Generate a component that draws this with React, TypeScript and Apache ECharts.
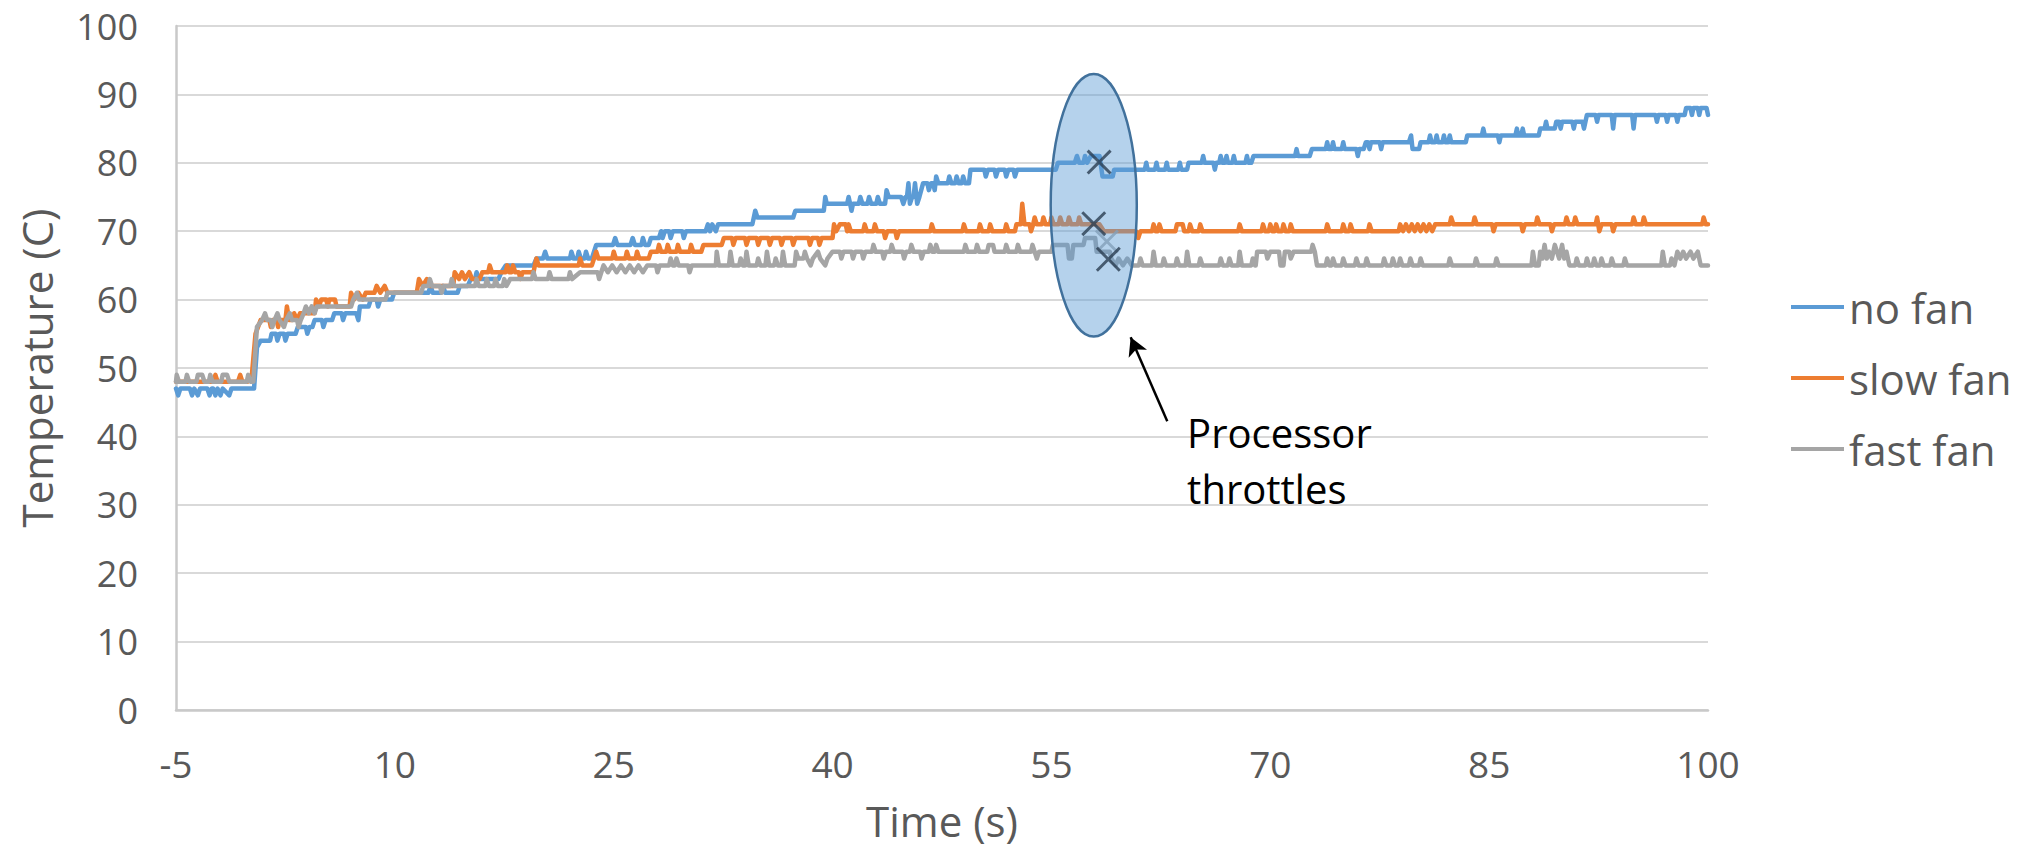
import React, { useEffect, useRef } from "react";
import * as echarts from "echarts";

// ---------- data (time in s, temperature in °C) ----------
const seriesNames = ["no fan", "slow fan", "fast fan"];
const seriesColors = ["#5B9BD5", "#ED7D31", "#A5A5A5"];

const xMin = -5;
const xMax = 100;
const xStep = 15;
const yMin = 0;
const yMax = 100;
const yStep = 10;

const noFanData = [
  [-5, 47], [-4.85, 46], [-4.7, 47], [-4.05, 47], [-3.9, 46], [-3.75, 47], [-3.5, 46], [-3.35, 47], [-2.85, 47], [-2.7, 46],
  [-2.55, 47], [-2.45, 47], [-2.3, 46], [-2.15, 47], [-1.95, 46], [-1.8, 47], [-1.35, 46], [-1.2, 47], [0.35, 47],
  [0.55, 53], [0.8, 54], [1.45, 54], [1.55, 55], [1.85, 55], [1.95, 54], [2.1, 55], [2.4, 55], [2.5, 54], [2.65, 55],
  [3.2, 55], [3.35, 56], [3.9, 56], [4.0, 55], [4.15, 56], [4.35, 56], [4.5, 57], [5.0, 57], [5.1, 56], [5.25, 57],
  [5.7, 57], [5.85, 58], [6.35, 58], [6.45, 57], [6.6, 58], [7.35, 58], [7.5, 57], [7.6, 59], [8.2, 59], [8.35, 60],
  [8.75, 60], [8.85, 59], [9.0, 60], [9.8, 60], [9.95, 61], [12.3, 61], [12.45, 62], [12.6, 61], [13.15, 61], [13.3, 62],
  [13.45, 61], [14.3, 61], [14.45, 62], [15.0, 62], [15.2, 63],
  [15.5, 63], [15.6, 64], [15.75, 63], [17.1, 63], [17.3, 64], [17.6, 65], [19.5, 65], [19.7, 66], [20.15, 66], [20.3, 67],
  [20.45, 66], [22.0, 66], [22.1, 67], [22.25, 66], [22.5, 66], [22.6, 67], [22.75, 66], [23.0, 66], [23.1, 67], [23.25, 66],
  [23.5, 66], [23.65, 67], [23.8, 68], [24.95, 68], [25.1, 69], [25.25, 68], [26.15, 68], [26.3, 69], [26.45, 68], [26.9, 68],
  [27.0, 69], [27.15, 68], [27.4, 68], [27.55, 69], [28.1, 69], [28.25, 70], [28.35, 69], [28.5, 70], [28.8, 70], [28.9, 69],
  [29.05, 70], [29.7, 70], [29.8, 69], [29.95, 70], [31.3, 70], [31.45, 71], [31.6, 70], [31.75, 71], [32.0, 70], [32.15, 71],
  [34.5, 71], [34.7, 73], [34.85, 72], [37.3, 72], [37.45, 73],
  [39.4, 73], [39.5, 75], [39.6, 74], [41.0, 74], [41.1, 75], [41.2, 74], [41.3, 73], [41.4, 74], [41.8, 74], [41.9, 75],
  [42.05, 74], [42.4, 74], [42.5, 75], [42.65, 74], [43.0, 74], [43.1, 75], [43.25, 74], [43.6, 74], [43.7, 76], [43.85, 75],
  [44.7, 75], [44.85, 74], [45.0, 75], [45.1, 75], [45.2, 77], [45.3, 74], [45.45, 75], [45.55, 75], [45.65, 77], [45.8, 74],
  [45.95, 75], [46.2, 77], [46.5, 77], [46.6, 76], [46.75, 77], [46.9, 77], [47.0, 76], [47.1, 78], [47.25, 77], [47.9, 77],
  [48.0, 78], [48.15, 77], [48.4, 77], [48.5, 78], [48.65, 77], [48.85, 77], [48.95, 78], [49.1, 77], [49.35, 77], [49.45, 79],
  [50.4, 79], [50.5, 78], [50.65, 79], [51.1, 79], [51.2, 78], [51.35, 79], [51.8, 79], [51.9, 78], [52.05, 79], [52.4, 79],
  [52.5, 78], [52.65, 79], [55.3, 79], [55.45, 80], [56.6, 80], [56.75, 81], [56.9, 80], [57.2, 80], [57.3, 81], [57.45, 80],
  [57.7, 81], [58.3, 81], [58.5, 78], [59.2, 78], [59.3, 79],
  [61.4, 79], [61.5, 80], [61.6, 79], [62.1, 79], [62.2, 80], [62.3, 79], [62.8, 79], [62.9, 80], [63.0, 79], [63.7, 79],
  [63.8, 80], [63.9, 79], [64.3, 79], [64.4, 80], [65.3, 80], [65.4, 81], [65.5, 80], [66.1, 80], [66.2, 79], [66.3, 80],
  [66.5, 80], [66.6, 81], [66.7, 80], [66.9, 80], [67.0, 81], [67.1, 80], [67.4, 80], [67.5, 81], [67.6, 80], [68.3, 80],
  [68.4, 81], [68.5, 80], [68.7, 80], [68.85, 81], [71.7, 81], [71.8, 82], [71.9, 81], [72.7, 81], [72.85, 82], [73.8, 82],
  [73.9, 83], [74.0, 82], [74.2, 82], [74.3, 83], [74.4, 82], [74.9, 82], [75.0, 83], [75.1, 82], [75.9, 82], [76.0, 81],
  [76.1, 82], [76.4, 82], [76.55, 83], [76.7, 83], [76.8, 82], [76.9, 83], [77.5, 83], [77.6, 82], [77.7, 83], [79.5, 83],
  [79.65, 84], [79.75, 82], [80.2, 82], [80.3, 83], [80.85, 83], [80.95, 84], [81.05, 83], [81.3, 83], [81.4, 84], [81.5, 83],
  [81.8, 83], [81.9, 84], [82.0, 83], [82.2, 83], [82.3, 84], [82.4, 83], [83.4, 83], [83.5, 84], [84.5, 84], [84.6, 85],
  [84.7, 84], [85.6, 84], [85.7, 83], [85.8, 84], [86.8, 84], [86.9, 85], [87.0, 84], [87.2, 84], [87.3, 85], [87.4, 84],
  [88.4, 84], [88.5, 85], [88.8, 85], [88.9, 86], [89.0, 85], [89.5, 85], [89.6, 86], [89.8, 86], [89.9, 85], [90.0, 86],
  [90.7, 86], [90.8, 85], [90.9, 86], [91.4, 86], [91.5, 85], [91.6, 86], [91.7, 87], [92.3, 87], [92.4, 86], [92.5, 87],
  [93.4, 87], [93.5, 85], [93.6, 87], [94.8, 87], [94.9, 85], [95.0, 87], [96.4, 87], [96.5, 86], [96.6, 87], [97.1, 87],
  [97.2, 86], [97.3, 87], [97.8, 87], [97.9, 86], [98.0, 87], [98.4, 87], [98.5, 88], [98.8, 88], [98.9, 87], [99.0, 88],
  [99.3, 88], [99.4, 87], [99.5, 88], [99.9, 88], [100, 87],
];

const slowFanData = [
  [-5, 48], [-2.45, 48], [-2.3, 49], [-2.15, 48], [-0.75, 48], [-0.6, 49], [-0.45, 48], [-0.1, 48], [0.2, 49], [0.45, 55],
  [0.8, 57], [1.4, 57], [1.5, 56], [1.6, 57], [1.9, 57], [2.0, 56], [2.1, 57], [2.5, 57], [2.6, 59], [2.75, 57],
  [3.0, 57], [3.1, 58], [3.3, 57], [3.5, 58], [4.5, 58], [4.6, 60], [4.8, 59], [4.95, 60], [5.3, 60], [5.4, 59],
  [5.5, 60], [5.9, 60], [6.0, 59], [6.9, 59], [7.0, 61], [7.2, 60], [7.5, 61], [7.8, 60], [8.0, 61], [8.6, 61],
  [8.75, 62], [9.0, 61], [9.3, 62], [9.5, 61], [11.5, 61], [11.65, 63], [11.9, 62], [12.2, 63], [12.4, 62], [14.0, 62],
  [14.1, 64], [14.4, 63], [14.6, 64], [14.8, 63], [15.1, 64], [15.3, 63],
  [15.8, 63], [16.0, 64], [16.4, 64], [16.5, 65], [16.65, 64], [17.6, 64], [17.7, 65], [17.85, 64], [18.0, 64], [18.1, 65],
  [18.25, 64], [18.5, 64], [18.6, 63], [18.75, 64], [19.5, 64], [19.7, 66], [19.85, 65], [22.6, 65], [22.7, 66], [22.85, 65],
  [23.5, 65], [23.65, 66], [23.8, 67], [23.95, 66], [24.9, 66], [25.0, 67], [25.15, 66], [25.8, 66], [25.9, 67], [26.05, 66],
  [26.5, 66], [26.6, 67], [26.75, 66], [27.4, 66], [27.55, 67], [28.0, 67], [28.1, 68], [28.25, 67], [28.6, 67], [28.7, 68],
  [28.85, 67], [29.3, 67], [29.4, 68], [29.55, 67], [30.2, 67], [30.3, 68], [30.45, 67], [31.0, 67], [31.15, 68], [32.4, 68],
  [32.55, 69], [33.1, 69], [33.2, 68], [33.35, 69], [34.0, 69], [34.1, 68], [34.25, 69], [34.8, 69], [34.9, 68], [35.05, 69],
  [35.6, 69], [35.7, 68], [35.85, 69], [36.4, 69], [36.5, 68], [36.65, 69], [37.2, 69], [37.3, 68], [37.45, 69],
  [38.35, 69], [38.45, 68], [38.6, 69], [39.0, 69], [39.1, 68], [39.25, 69], [40.0, 69], [40.1, 71], [40.25, 70], [40.5, 71],
  [40.9, 71], [41.0, 70], [41.1, 71], [41.25, 70], [42.1, 70], [42.2, 71], [42.35, 70], [42.8, 70], [42.9, 71], [43.05, 70],
  [43.5, 70], [43.6, 69], [43.75, 70], [44.3, 70], [44.4, 69], [44.55, 70], [46.7, 70], [46.8, 71], [46.95, 70], [48.9, 70],
  [49.0, 71], [49.15, 70], [50.0, 70], [50.1, 71], [50.25, 70], [50.7, 70], [50.8, 71], [50.95, 70], [51.8, 70], [51.9, 71],
  [52.05, 70], [52.5, 70], [52.6, 71], [52.9, 71], [53.0, 74], [53.15, 71], [53.5, 71], [53.6, 70], [53.75, 71], [53.85, 72],
  [54.0, 71], [54.35, 71], [54.45, 72], [54.6, 71], [54.9, 71], [55.0, 72], [55.15, 71], [55.5, 71], [55.6, 72], [55.75, 71],
  [56.1, 71], [56.2, 72], [56.35, 71], [56.8, 71], [56.9, 72], [57.05, 71], [58.3, 71], [58.6, 70], [60.8, 70], [60.95, 69],
  [61.1, 70],
  [61.9, 70], [62.0, 71], [62.15, 70], [62.3, 70], [62.4, 71], [62.55, 70], [63.5, 70], [63.6, 71], [64.0, 71], [64.1, 70],
  [64.4, 70], [64.5, 71], [64.65, 70], [65.1, 70], [65.2, 71], [65.35, 70], [67.8, 70], [67.9, 71], [68.05, 70], [69.4, 70],
  [69.5, 71], [69.65, 70], [69.9, 70], [70.0, 71], [70.15, 70], [70.3, 70], [70.4, 71], [70.55, 70], [70.8, 70], [70.9, 71],
  [71.05, 70], [71.3, 70], [71.4, 71], [71.55, 70], [73.8, 70], [73.9, 71], [74.05, 70], [74.9, 70], [75.0, 71], [75.15, 70],
  [75.4, 70], [75.5, 71], [75.65, 70], [76.7, 70], [76.8, 71], [76.95, 70], [78.8, 70], [78.9, 71], [79.1, 70], [79.3, 71],
  [79.5, 70], [79.7, 71], [79.9, 70], [80.1, 71], [80.3, 70], [80.5, 71], [80.7, 70], [80.9, 71], [81.1, 70], [81.3, 71],
  [82.3, 71], [82.4, 72], [82.55, 71], [83.9, 71], [84.0, 72], [84.15, 71], [85.2, 71], [85.3, 70], [85.45, 71], [87.2, 71],
  [87.3, 70], [87.45, 71], [88.2, 71], [88.3, 72], [88.45, 71], [89.2, 71], [89.3, 70], [89.45, 71], [90.2, 71], [90.3, 72],
  [90.45, 71], [90.8, 71], [90.9, 72], [91.05, 71], [92.3, 71], [92.4, 72], [92.55, 70], [92.7, 71], [93.4, 71], [93.5, 70],
  [93.65, 71], [94.8, 71], [94.9, 72], [95.05, 71], [95.5, 71], [95.6, 72], [95.75, 71], [99.6, 71], [99.7, 72], [99.85, 71],
  [100, 71],
];

const fastFanData = [
  [-5, 48], [-4.95, 49], [-4.8, 48], [-4.35, 48], [-4.25, 49], [-4.1, 48], [-3.6, 48], [-3.5, 49], [-3.2, 49], [-3.05, 48],
  [-2.75, 48], [-2.65, 49], [-2.5, 48], [-1.9, 48], [-1.8, 49], [-1.5, 49], [-1.35, 48], [-0.15, 48], [-0.05, 49], [0.1, 48],
  [0.3, 48], [0.55, 56], [0.9, 57], [1.1, 58], [1.25, 57], [1.5, 57], [1.6, 56], [1.75, 57], [1.95, 58], [2.1, 57],
  [2.4, 56], [2.55, 57], [2.8, 58], [2.95, 57], [3.3, 57], [3.4, 56], [3.55, 57], [3.75, 58], [3.9, 59], [4.1, 58],
  [4.3, 59], [4.5, 58], [4.65, 59], [7.0, 59], [7.15, 60], [7.4, 61], [7.55, 60], [9.35, 60], [9.5, 61], [11.8, 61],
  [11.95, 62], [12.3, 62], [12.4, 63], [12.55, 62], [13.1, 62], [13.2, 61], [13.35, 62], [13.8, 62], [13.9, 63], [14.05, 62],
  [15.5, 62], [15.6, 63], [15.75, 62], [16.2, 62], [16.3, 63], [16.45, 62], [16.8, 62], [16.9, 63], [17.05, 62], [17.4, 62],
  [17.5, 63], [17.65, 62], [17.9, 63], [19.4, 63], [19.5, 64], [19.65, 63], [20.5, 63], [20.6, 64], [20.75, 63], [21.9, 63],
  [22.0, 64], [22.15, 63], [22.7, 64], [23.9, 64], [24.0, 63], [24.15, 64], [24.3, 65], [24.6, 64], [24.9, 65], [25.2, 64],
  [25.5, 65], [25.8, 64], [26.1, 65], [26.4, 64], [26.7, 65], [27.0, 64], [27.3, 65], [27.9, 65], [28.0, 64], [28.15, 65],
  [28.8, 65], [28.9, 66], [29.05, 65], [29.2, 65], [29.3, 66], [29.45, 65], [30.1, 65], [30.2, 64], [30.35, 65], [32.0, 65],
  [32.06, 67], [32.2, 65], [32.9, 65], [33.0, 67], [33.15, 65], [33.6, 65], [33.7, 66], [33.85, 65], [34.0, 65], [34.1, 67],
  [34.25, 65], [34.8, 65], [34.9, 66], [35.05, 65], [35.4, 65], [35.5, 67], [35.65, 65], [36.0, 65], [36.1, 66], [36.25, 65],
  [36.5, 65], [36.6, 67], [36.75, 65], [37.4, 65], [37.5, 67], [37.65, 66], [38.0, 66], [38.1, 67], [38.25, 66], [38.5, 65],
  [38.65, 66], [39.0, 67], [39.15, 66], [39.5, 65], [39.65, 66], [40.0, 67], [40.5, 67], [40.6, 66], [40.75, 67], [41.3, 67],
  [41.4, 66], [41.55, 67], [42.0, 67], [42.1, 66], [42.25, 67], [42.7, 67], [42.8, 68], [42.95, 67], [43.4, 67], [43.5, 66],
  [43.65, 67], [43.95, 67], [44.05, 68], [44.2, 67], [44.8, 67], [44.9, 66], [45.05, 67], [45.3, 67], [45.4, 68], [45.55, 67],
  [46.0, 67], [46.1, 66], [46.25, 67], [46.6, 67], [46.7, 68], [46.85, 67], [47.0, 67], [47.1, 68], [47.25, 67], [49.0, 67],
  [49.1, 68], [49.25, 67], [49.8, 67], [49.9, 68], [50.05, 67], [50.6, 67], [50.7, 68], [51.0, 68], [51.1, 67], [51.8, 67],
  [51.9, 68], [52.05, 67], [52.6, 67], [52.7, 68], [52.85, 67], [53.6, 67], [53.7, 68], [53.85, 67], [54.0, 66], [54.15, 67],
  [55.0, 67], [55.1, 68], [56.1, 68], [56.2, 66], [56.4, 66], [56.5, 68], [57.2, 68], [57.3, 69], [58.0, 69], [58.1, 67],
  [59.0, 67], [59.1, 66], [59.4, 65], [59.6, 66], [59.9, 65], [60.2, 66], [60.5, 65], [61.0, 65], [61.1, 66], [61.25, 65],
  [61.9, 65], [62.0, 67], [62.15, 65], [62.6, 65], [62.7, 66], [62.85, 65], [63.5, 65], [63.6, 66], [63.75, 65], [64.2, 65],
  [64.3, 67], [64.45, 65], [65.1, 65], [65.2, 66], [65.35, 65], [66.5, 65], [66.6, 66], [66.75, 65], [67.1, 65], [67.2, 66],
  [67.35, 65], [67.8, 65], [67.9, 67], [68.05, 65], [68.7, 65], [68.8, 66], [68.95, 65], [69.0, 65], [69.1, 67], [69.7, 67],
  [69.8, 66], [70.0, 67], [70.6, 67], [70.7, 65], [70.9, 65], [71.0, 67], [71.3, 67], [71.4, 66], [71.6, 67], [72.8, 67],
  [72.9, 68], [73.05, 67], [73.2, 65], [73.8, 65], [73.9, 66], [74.05, 65], [74.2, 65], [74.3, 66], [74.45, 65], [74.9, 65],
  [75.0, 66], [75.15, 65], [75.8, 65], [75.9, 66], [76.05, 65], [76.5, 65], [76.6, 66], [76.75, 65], [77.7, 65], [77.8, 66],
  [77.95, 65], [78.3, 65], [78.4, 66], [78.55, 65], [78.8, 65], [78.9, 66], [79.05, 65], [79.5, 65], [79.6, 66], [79.75, 65],
  [80.2, 65], [80.3, 66], [80.45, 65], [82.2, 65], [82.3, 66], [82.45, 65], [84.0, 65], [84.1, 66], [84.25, 65], [85.4, 65],
  [85.5, 66], [85.65, 65], [87.9, 65], [88.0, 67], [88.15, 65], [88.4, 65], [88.5, 67], [88.65, 66], [88.8, 68], [88.95, 66],
  [89.1, 67], [89.3, 66], [89.5, 68], [89.65, 67], [89.8, 66], [90.0, 68], [90.15, 66], [90.3, 67], [90.5, 65], [90.9, 65],
  [91.0, 66], [91.15, 65], [91.6, 65], [91.7, 66], [91.85, 65], [92.1, 65], [92.2, 66], [92.35, 65], [92.6, 65], [92.7, 66],
  [92.85, 65], [93.3, 65], [93.4, 66], [93.55, 65], [94.2, 65], [94.3, 66], [94.45, 65], [96.8, 65], [96.9, 67], [97.05, 65],
  [97.4, 65], [97.5, 66], [97.7, 65], [97.9, 67], [98.1, 66], [98.3, 67], [98.5, 66], [98.8, 67], [99.0, 66], [99.3, 67],
  [99.5, 65], [100, 65],
];

// throttle points (×) and annotation anchors, in data coordinates
const throttleMarkers = [[58.27, 80.1], [57.9, 71.1], [58.9, 65.9]];
const hiddenMarker = [[58.8, 68.5]];
const ellipseCenter = [57.9, 73.8];
const ellipseHalfSize = [2.95, 19.2];
const arrowFrom = [62.94, 42.2];
const arrowTo = [60.43, 54.5];
const noteAnchor = [64.3, 44.6];
const noteText = "Processor\nthrottles";

const xAxisTitle = "Time (s)";
const yAxisTitle = "Temperature (C)";

const FONT = "'Open Sans', 'Noto Sans', sans-serif";
const TEXT_GRAY = "#595959";
const CROSS = "path://M0,2L2,0L12,10L22,0L24,2L14,12L24,22L22,24L12,14L2,24L0,22L10,12Z";

export default function App() {
  const ref = useRef<HTMLDivElement>(null);

  useEffect(() => {
    if (!ref.current) return;
    const chart = echarts.init(ref.current, null, { renderer: "svg" });
    const lineData = [noFanData, slowFanData, fastFanData];

    const option: any = {
      animation: false,
      textStyle: { fontFamily: FONT },
      grid: { left: 176, right: 311, top: 26, bottom: 141, containLabel: false },
      legend: {
        data: seriesNames,
        orient: "vertical",
        left: 1786,
        top: 277,
        icon: "rect",
        itemWidth: 53,
        itemHeight: 4,
        itemGap: 21,
        textStyle: { fontSize: 42, color: TEXT_GRAY, fontFamily: FONT, lineHeight: 50 },
        selectedMode: false,
      },
      xAxis: {
        type: "value",
        min: xMin,
        max: xMax,
        interval: xStep,
        name: xAxisTitle,
        nameLocation: "middle",
        nameGap: 89,
        nameTextStyle: { fontSize: 42, color: TEXT_GRAY, fontFamily: FONT },
        axisLine: { show: true, onZero: false, lineStyle: { color: "#C9C9C9", width: 2.5 } },
        axisTick: { show: false },
        splitLine: { show: false },
        axisLabel: { fontSize: 37, color: TEXT_GRAY, margin: 35, fontFamily: FONT },
      },
      yAxis: {
        type: "value",
        min: yMin,
        max: yMax,
        interval: yStep,
        name: yAxisTitle,
        nameLocation: "middle",
        nameRotate: 90,
        nameGap: 119,
        nameTextStyle: { fontSize: 42, color: TEXT_GRAY, fontFamily: FONT },
        axisLine: { show: true, onZero: false, lineStyle: { color: "#C9C9C9", width: 2.5 } },
        axisTick: { show: false },
        splitLine: { show: true, lineStyle: { color: "#D9D9D9", width: 2 } },
        axisLabel: { fontSize: 36, color: TEXT_GRAY, margin: 38, fontFamily: FONT },
      },
      series: [
        ...seriesNames.map((name, i) => ({
          name,
          type: "line",
          data: lineData[i],
          symbol: "none",
          showSymbol: false,
          color: seriesColors[i],
          lineStyle: { width: 4.5, color: seriesColors[i], join: "round", cap: "round" },
          z: 2 + i * 0.1,
          silent: true,
        })),
        {
          name: "hidden marker",
          type: "scatter",
          data: hiddenMarker,
          symbol: CROSS,
          symbolSize: 24,
          itemStyle: { color: "#A5A5A5" },
          z: 3,
          silent: true,
        },
        {
          name: "throttle",
          type: "scatter",
          data: throttleMarkers,
          symbol: CROSS,
          symbolSize: 25,
          itemStyle: { color: "#2B3D51" },
          z: 10,
          silent: true,
          markLine: {
            silent: true,
            symbol: ["none", "arrow"],
            symbolSize: [15, 18],
            label: { show: false },
            lineStyle: { color: "#000000", width: 2.5, type: "solid" },
            data: [[{ coord: arrowFrom }, { coord: arrowTo }]],
          },
        },
      ],
    };

    chart.setOption(option);

    const c = chart.convertToPixel({ gridIndex: 0 }, ellipseCenter) as number[];
    const e = chart.convertToPixel({ gridIndex: 0 }, [
      ellipseCenter[0] + ellipseHalfSize[0],
      ellipseCenter[1] + ellipseHalfSize[1],
    ]) as number[];
    const n = chart.convertToPixel({ gridIndex: 0 }, noteAnchor) as number[];

    chart.setOption({
      graphic: [
        {
          type: "ellipse",
          z: 5,
          silent: true,
          shape: { cx: c[0], cy: c[1], rx: Math.abs(e[0] - c[0]), ry: Math.abs(c[1] - e[1]) },
          style: { fill: "rgba(91,155,213,0.45)", stroke: "#41719C", lineWidth: 2.5 },
        },
        {
          type: "text",
          z: 6,
          silent: true,
          x: n[0],
          y: n[1],
          style: {
            text: noteText,
            fontSize: 40,
            fontFamily: FONT,
            fill: "#000000",
            lineHeight: 56,
            align: "left",
            verticalAlign: "top",
          },
        },
      ],
    });

    return () => chart.dispose();
  }, []);

  return (
    <div
      ref={ref}
      style={{ position: "absolute", left: 0, top: 0, width: 2019, height: 851, background: "#ffffff" }}
    />
  );
}
